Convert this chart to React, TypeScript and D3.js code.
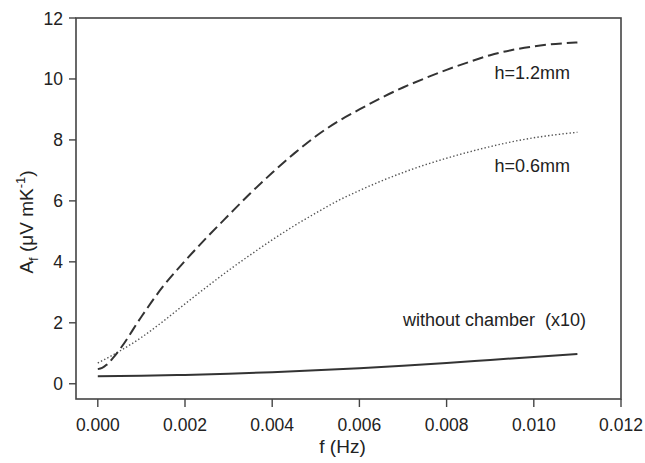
import React, { useEffect, useRef } from 'react';
import * as d3 from 'd3';

// frequency (Hz) and amplitude values
const freqDashed = [0, 0.0001, 0.0002, 0.00035, 0.0005, 0.001, 0.0015, 0.002, 0.0025, 0.003, 0.0035, 0.004, 0.0045, 0.005, 0.0055, 0.006, 0.0065, 0.007, 0.0075, 0.008, 0.0085, 0.009, 0.0095, 0.010, 0.0105, 0.011];
const ampDashed = [0.48, 0.52, 0.62, 0.85, 1.12, 2.2, 3.2, 4.03, 4.8, 5.53, 6.25, 6.92, 7.55, 8.12, 8.6, 9.0, 9.38, 9.72, 10.02, 10.3, 10.55, 10.78, 10.95, 11.07, 11.15, 11.2];

const freqDotted = [0, 0.0005, 0.001, 0.0015, 0.002, 0.0025, 0.003, 0.0035, 0.004, 0.0045, 0.005, 0.0055, 0.006, 0.0065, 0.007, 0.0075, 0.008, 0.0085, 0.009, 0.0095, 0.010, 0.0105, 0.011];
const ampDotted = [0.68, 1.07, 1.52, 2.05, 2.62, 3.18, 3.72, 4.23, 4.72, 5.18, 5.6, 6.0, 6.34, 6.65, 6.93, 7.18, 7.4, 7.6, 7.78, 7.94, 8.07, 8.17, 8.25];

const freqSolid = [0, 0.001, 0.002, 0.003, 0.004, 0.005, 0.006, 0.007, 0.008, 0.009, 0.010, 0.011];
const ampSolid = [0.25, 0.26, 0.29, 0.33, 0.38, 0.44, 0.51, 0.59, 0.68, 0.78, 0.88, 0.98];

const xTicks = [0, 0.002, 0.004, 0.006, 0.008, 0.010, 0.012];
const yTicks = [0, 2, 4, 6, 8, 10, 12];

const seriesLabels = ['h=1.2mm', 'h=0.6mm', 'without chamber  (x10)'];

const W = 645;
const H = 463;

const App = () => {
  const svgRef = useRef<SVGSVGElement>(null);

  useEffect(() => {
    document.body.style.margin = '0';
    const svg = d3.select(svgRef.current);
    svg.selectAll('*').remove();

    const left = 76, right = 621, top = 18, bottom = 399;
    const x = d3.scaleLinear().domain([-0.0005, 0.012]).range([left, right]);
    const y = d3.scaleLinear().domain([-0.5, 12]).range([bottom, top]);

    const ink = '#333';
    const font = 'Arial, "Liberation Sans", sans-serif';

    // frame
    svg.append('rect')
      .attr('x', left).attr('y', top)
      .attr('width', right - left).attr('height', bottom - top)
      .attr('fill', 'none').attr('stroke', '#444').attr('stroke-width', 1.6);

    // x ticks
    const xg = svg.append('g');
    xg.selectAll('line').data(xTicks).join('line')
      .attr('x1', d => x(d)).attr('x2', d => x(d))
      .attr('y1', bottom).attr('y2', bottom + 8)
      .attr('stroke', '#444').attr('stroke-width', 1.4);
    xg.selectAll('text').data(xTicks).join('text')
      .attr('x', d => x(d)).attr('y', bottom + 32)
      .attr('text-anchor', 'middle')
      .style('font-family', font).style('font-size', '17.5px').attr('fill', '#222')
      .text(d => d3.format('.3f')(d));

    // y ticks
    const yg = svg.append('g');
    yg.selectAll('line').data(yTicks).join('line')
      .attr('x1', left - 7).attr('x2', left)
      .attr('y1', d => y(d)).attr('y2', d => y(d))
      .attr('stroke', '#444').attr('stroke-width', 1.4);
    yg.selectAll('text').data(yTicks).join('text')
      .attr('x', left - 13).attr('y', d => y(d) + 6.5)
      .attr('text-anchor', 'end')
      .style('font-family', font).style('font-size', '17.5px').attr('fill', '#222')
      .text(d => d);

    // axis titles
    svg.append('text')
      .attr('x', (left + right) / 2 - 6).attr('y', 453)
      .attr('text-anchor', 'middle')
      .style('font-family', font).style('font-size', '19px').attr('fill', '#222')
      .text('f (Hz)');

    const yt = svg.append('text')
      .attr('transform', `translate(33,222) rotate(-90)`)
      .attr('text-anchor', 'middle')
      .style('font-family', font).style('font-size', '19px').attr('fill', '#222');
    yt.append('tspan').text('A');
    yt.append('tspan').attr('dy', 5).style('font-size', '13px').text('f');
    yt.append('tspan').attr('dy', -5).text(' (μV mK');
    yt.append('tspan').attr('dy', -8).style('font-size', '13px').text('-1');
    yt.append('tspan').attr('dy', 8).text(')');

    const line = d3.line<[number, number]>()
      .x(d => x(d[0])).y(d => y(d[1]))
      .curve(d3.curveMonotoneX);

    const solid = freqSolid.map((f, i) => [f, ampSolid[i]] as [number, number]);
    const dotted = freqDotted.map((f, i) => [f, ampDotted[i]] as [number, number]);
    const dashed = freqDashed.map((f, i) => [f, ampDashed[i]] as [number, number]);

    svg.append('path').attr('d', line(solid)!)
      .attr('fill', 'none').attr('stroke', ink).attr('stroke-width', 2);
    svg.append('path').attr('d', line(dotted)!)
      .attr('fill', 'none').attr('stroke', '#555').attr('stroke-width', 1.4)
      .attr('stroke-dasharray', '1.4,2.2');
    svg.append('path').attr('d', line(dashed)!)
      .attr('fill', 'none').attr('stroke', ink).attr('stroke-width', 2)
      .attr('stroke-dasharray', '11,5');

    // series labels
    const labelPos: [number, number][] = [[0.0091, 10.0], [0.0091, 6.95], [0.0070, 1.9]];
    svg.selectAll('.lbl').data(seriesLabels).join('text')
      .attr('class', 'lbl')
      .attr('x', (d, i) => x(labelPos[i][0]))
      .attr('y', (d, i) => y(labelPos[i][1]))
      .style('font-family', font).style('font-size', '18px').attr('fill', '#222')
      .style('white-space', 'pre')
      .text(d => d);
  }, []);

  return (
    <svg ref={svgRef} width={W} height={H} style={{ position: 'absolute', left: 0, top: 0, background: '#fff' }} />
  );
};

export default App;
